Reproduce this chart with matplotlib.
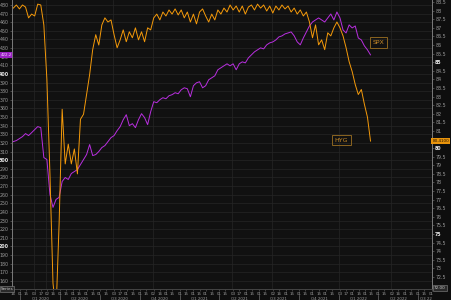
import numpy as np
import pandas as pd
import matplotlib
matplotlib.use('Agg')
import matplotlib.pyplot as plt
import matplotlib.transforms as mtransforms
from matplotlib.ticker import FixedLocator

# Weekly closes
dates = pd.date_range('2019-12-16', '2022-03-14', freq='W-MON')

hyg = [88.15, 88.33, 88.10, 88.33, 88.21, 87.58, 87.80, 87.69, 88.38, 88.33,
       87.17, 84.00, 78.50, 72.14, 70.50, 75.60, 82.26, 79.08, 80.23, 79.08,
       79.95, 78.50, 81.68, 81.97, 83.12, 84.28, 85.73, 86.60, 86.00, 87.17,
       87.58, 87.34, 87.46, 86.60, 85.84, 86.30, 86.88, 86.19, 86.77, 86.42,
       87.00, 86.30, 86.77, 86.19, 87.00, 86.88, 87.58, 87.80, 87.46, 87.92,
       87.69, 88.04, 87.80, 88.10, 87.75, 88.04, 87.58, 87.92, 87.34, 87.80,
       87.23, 87.92, 88.10, 87.69, 87.34, 87.80, 87.46, 88.04, 87.80, 88.15,
       87.92, 88.33, 88.04, 88.27, 87.92, 88.27, 87.80, 88.21, 88.33, 88.04,
       88.38, 88.15, 88.33, 87.98, 88.27, 87.86, 88.27, 88.04, 88.33, 88.10,
       88.27, 87.92, 88.15, 87.80, 88.04, 87.69, 87.92, 87.34, 86.42, 87.17,
       86.01, 86.30, 85.73, 86.71, 86.53, 87.00, 87.34, 87.00, 86.53, 85.84,
       85.03, 84.45, 83.70, 83.12, 83.41, 82.55, 81.80, 80.41]

spx = [321.6, 322.8, 325.1, 327.4, 330.9, 328.6, 332.0, 335.5, 339.0, 337.8,
       303.1, 300.8, 260.3, 245.3, 254.6, 256.9, 275.4, 280.0, 277.7, 284.6,
       286.9, 289.2, 295.0, 300.8, 306.6, 318.2, 305.4, 306.6, 310.1, 314.7,
       317.0, 321.6, 326.2, 328.6, 334.3, 339.0, 347.0, 352.8, 340.1, 342.4,
       337.8, 347.0, 354.0, 349.4, 341.3, 356.3, 367.9, 366.7, 370.2, 372.5,
       371.3, 374.8, 376.0, 378.3, 377.1, 381.7, 384.0, 382.9, 373.6, 386.4,
       389.8, 391.0, 384.0, 386.4, 393.3, 395.6, 397.9, 404.9, 407.2, 409.5,
       411.8, 409.5, 411.8, 404.9, 411.8, 414.1, 412.9, 418.7, 422.2, 425.7,
       428.0, 430.3, 429.1, 433.8, 436.1, 437.2, 439.5, 443.0, 444.2, 446.5,
       447.6, 448.8, 444.2, 437.2, 433.8, 441.8, 448.8, 455.7, 460.3, 462.7,
       465.0, 462.7, 460.3, 465.0, 469.6, 462.7, 471.9, 465.0, 451.1, 447.6,
       456.9, 453.4, 455.7, 441.8, 439.5, 432.6, 428.0, 422.2]

left_ticks = np.arange(160, 490, 10)
right_ticks = np.arange(72.5, 88.6, 0.5)
quarter_names = ['Q1 2020', 'Q2 2020', 'Q3 2020', 'Q4 2020', 'Q1 2021', 'Q2 2021',
                 'Q3 2021', 'Q4 2021', 'Q1 2022', 'Q2 2022', 'Q3 22']
quarter_starts = pd.date_range('2020-01-01', '2022-07-01', freq='QS')

bg = '#0e0e0e'
grid_c = '#262626'
txt_c = '#9a9a9a'
purple = '#b92fe0'
orange = '#f59a0a'

x_start = pd.Timestamp('2019-12-13')
x_end = pd.Timestamp('2022-08-02')

fig = plt.figure(figsize=(4.51, 3.0), dpi=100, facecolor=bg)
ax = fig.add_axes([12 / 451, 11 / 300, 420 / 451, 289 / 300])
ax.set_facecolor('#111111')
ax2 = ax.twinx()

ax.plot(dates, spx, color=purple, lw=0.7)
ax2.plot(dates, hyg, color=orange, lw=0.7)

ax.set_xlim(x_start, x_end)
ax.set_ylim(150.7, 485.8)
ax2.set_ylim(71.8, 88.62)

# y axes
ax.set_yticks(left_ticks)
ax.set_yticklabels([str(v) for v in left_ticks])
ax2.set_yticks(right_ticks)
ax2.set_yticklabels([('%g' % v) for v in right_ticks])
ax.tick_params(axis='y', labelsize=3.4, colors='#777777', labelcolor=txt_c,
               length=1.5, width=0.4, pad=0.8)
ax2.tick_params(axis='y', labelsize=3.4, colors='#777777', labelcolor=txt_c,
                length=1.5, width=0.4, pad=0.8)
for lab, v in zip(ax.get_yticklabels(), left_ticks):
    if v % 100 == 0:
        lab.set_color('#e8e8e8')
        lab.set_fontweight('bold')
for lab, v in zip(ax2.get_yticklabels(), right_ticks):
    if v % 5 == 0:
        lab.set_color('#e8e8e8')
        lab.set_fontweight('bold')

# x axis: semi-monthly day numbers, monthly grid, quarter row
bday = pd.offsets.BDay()
semi = [bday.rollforward(d) for d in pd.date_range('2019-12-15', x_end, freq='SMS')]
ax.xaxis.set_major_locator(FixedLocator(matplotlib.dates.date2num(semi)))
ax.set_xticklabels([d.strftime('%d') for d in semi])
ax.xaxis.set_minor_locator(FixedLocator(matplotlib.dates.date2num(
    pd.date_range('2020-01-01', x_end, freq='MS'))))
ax.tick_params(axis='x', which='major', labelsize=2.9, colors='#666666',
               labelcolor=txt_c, length=1.5, width=0.4, pad=1)
ax.tick_params(axis='x', which='minor', length=0)

ax.grid(axis='y', color=grid_c, lw=0.5)
ax.grid(axis='x', which='minor', color=grid_c, lw=0.5)
ax.set_axisbelow(True)

trans = mtransforms.blended_transform_factory(ax.transData, ax.transAxes)
bounds = list(quarter_starts) + [x_end]
for i, name in enumerate(quarter_names):
    ax.plot([bounds[i], bounds[i]], [-0.022, -0.04], color='#888888', lw=0.4,
            transform=trans, clip_on=False)
    if i < len(quarter_names) - 1:
        mid = bounds[i] + (bounds[i + 1] - bounds[i]) / 2
        ax.text(mid, -0.032, name, transform=trans, ha='center', va='center',
                fontsize=2.9, color=txt_c)
    else:
        ax.text(bounds[i] + pd.Timedelta(days=4), -0.032, name, transform=trans,
                ha='left', va='center', fontsize=2.9, color=txt_c)

for a in (ax, ax2):
    a.spines['top'].set_visible(False)
    a.spines['left'].set_color('#7a7a7a')
    a.spines['right'].set_color('#7a7a7a')
    a.spines['bottom'].set_color('#444444')
    for s in a.spines.values():
        s.set_linewidth(0.6)

# last-value flags on the axes
ax.text(-0.001, spx[-1], '%.1f' % spx[-1], transform=mtransforms.blended_transform_factory(
    ax.transAxes, ax.transData), ha='right', va='center', fontsize=2.9, color='#f0d8ff',
    bbox=dict(boxstyle='square,pad=0.25', fc='#9b22c4', ec='none'))
ax2.text(1.001, hyg[-1], '%.4f' % hyg[-1], transform=mtransforms.blended_transform_factory(
    ax2.transAxes, ax2.transData), ha='left', va='center', fontsize=3.0, color='#201000',
    bbox=dict(boxstyle='square,pad=0.25', fc='#e8940c', ec='none'))

# bottom corner boxes
fig.text(1 / 451, 1 - 289 / 300, 'Series', fontsize=3, color='#cccccc', ha='left',
         va='center', bbox=dict(boxstyle='square,pad=0.2', fc='#2a2a2a', ec='#888888', lw=0.4))
fig.text(434 / 451, 1 - 288 / 300, '72.00', fontsize=3, color='#cccccc', ha='left',
         va='center', bbox=dict(boxstyle='square,pad=0.2', fc='#2a2a2a', ec='#888888', lw=0.4))

# series tags
tag = dict(boxstyle='square,pad=0.45', fc='none', ec='#8a6420', lw=0.7)
fig.text(378.5 / 451, 1 - 42.5 / 300, 'SPX', fontsize=4.5, color='#c88a28', ha='center',
         va='center', bbox=tag)
fig.text(341.5 / 451, 1 - 140 / 300, 'HYG', fontsize=4.5, color='#c88a28', ha='center',
         va='center', bbox=tag)

fig.savefig('out.png', dpi=100, facecolor=bg)
